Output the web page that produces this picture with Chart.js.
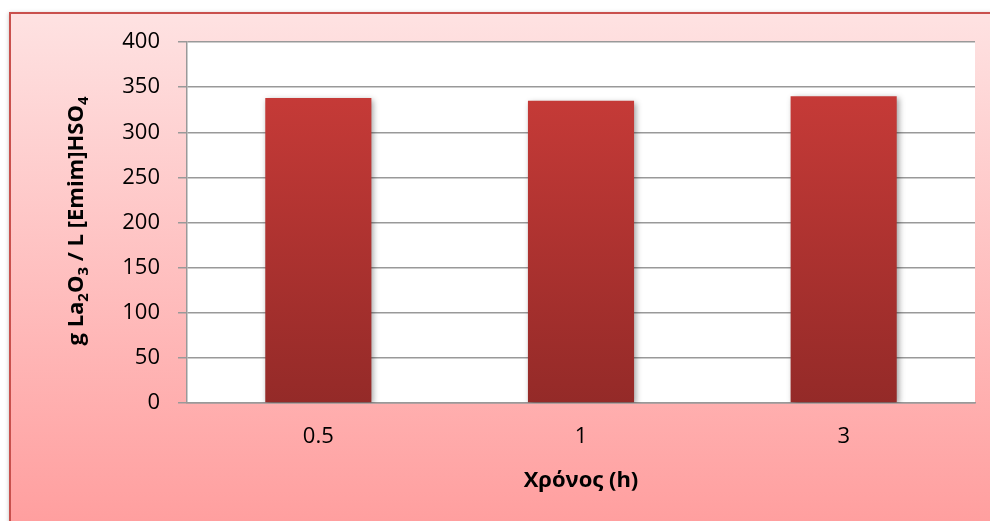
<!DOCTYPE html>
<html>
<head>
<meta charset="utf-8">
<script src="https://cdn.jsdelivr.net/npm/chart.js@4/dist/chart.umd.min.js"></script>
<style>
  html, body { margin: 0; padding: 0; background: #fff; overflow: hidden; }
  canvas { display: block; }
</style>
</head>
<body>
<canvas id="chart" width="990" height="521"></canvas>
<script>
// Data
const categories = ['0.5', '1', '3'];
const yields = [338, 335, 340];
const yMin = 0;
const yMax = 400;
const yStep = 50;
const xTitle = 'Χρόνος (h)';
// Y-axis title pieces: [text, isSubscript]
const yTitleParts = [['g La', 0], ['2', 1], ['O', 0], ['3', 1], [' / L [Emim]HSO', 0], ['4', 1]];

const FONT = '"Open Sans", "Noto Sans", sans-serif';

// Pink panel with a red frame behind the whole chart
const panelBackground = {
  id: 'panelBackground',
  beforeDraw(chart) {
    const ctx = chart.ctx;
    ctx.save();
    ctx.fillStyle = '#ffffff';
    ctx.fillRect(0, 0, chart.width, chart.height);
    const g = ctx.createLinearGradient(0, 13, 0, chart.height);
    g.addColorStop(0, '#fee2e2');
    g.addColorStop(1, '#ff9f9f');
    ctx.shadowColor = 'rgba(0,0,0,0.25)';
    ctx.shadowBlur = 4;
    ctx.shadowOffsetX = -1;
    ctx.fillStyle = g;
    ctx.fillRect(10, 13, chart.width + 10, chart.height + 10);
    ctx.shadowColor = 'transparent';
    ctx.strokeStyle = '#c9504d';
    ctx.lineWidth = 2;
    ctx.strokeRect(10, 13, chart.width + 10, chart.height + 10);
    // white plot area
    const a = chart.chartArea;
    ctx.fillStyle = '#ffffff';
    ctx.fillRect(a.left, a.top, a.right - a.left, a.bottom - a.top);
    ctx.restore();
  }
};

// Soft drop shadow under the bars
const barShadow = {
  id: 'barShadow',
  beforeDatasetsDraw(chart) {
    const ctx = chart.ctx;
    ctx.save();
    ctx.shadowColor = 'rgba(0,0,0,0.38)';
    ctx.shadowBlur = 6;
    ctx.shadowOffsetX = 2;
    ctx.shadowOffsetY = 2;
  },
  afterDatasetsDraw(chart) {
    chart.ctx.restore();
  }
};

// Axis titles (the y title needs subscripts)
const axisTitles = {
  id: 'axisTitles',
  afterDraw(chart) {
    const ctx = chart.ctx;
    const a = chart.chartArea;
    ctx.save();
    ctx.fillStyle = '#000';
    ctx.textBaseline = 'alphabetic';

    // x title
    ctx.font = 'bold 22px ' + FONT;
    ctx.textAlign = 'center';
    ctx.fillText(xTitle, (a.left + a.right) / 2, 487);

    // y title, rotated
    const mainFont = 'bold 22px ' + FONT;
    const subFont = 'bold 15px ' + FONT;
    let total = 0;
    for (const [t, sub] of yTitleParts) {
      ctx.font = sub ? subFont : mainFont;
      total += ctx.measureText(t).width;
    }
    ctx.translate(83, 221);
    ctx.rotate(-Math.PI / 2);
    ctx.textAlign = 'left';
    let x = -total / 2;
    for (const [t, sub] of yTitleParts) {
      ctx.font = sub ? subFont : mainFont;
      ctx.fillText(t, x, sub ? 5 : 0);
      x += ctx.measureText(t).width;
    }
    ctx.restore();
  }
};

const ctx = document.getElementById('chart').getContext('2d');
new Chart(ctx, {
  type: 'bar',
  data: {
    labels: categories,
    datasets: [{
      data: yields,
      backgroundColor(c) {
        const area = c.chart.chartArea;
        if (!area) return '#c0392f';
        const g = c.chart.ctx.createLinearGradient(0, area.top, 0, area.bottom);
        g.addColorStop(0, '#ce3d3a');
        g.addColorStop(1, '#942a28');
        return g;
      },
      borderWidth: 0,
      barPercentage: 0.404,
      categoryPercentage: 1.0
    }]
  },
  options: {
    responsive: false,
    animation: false,
    devicePixelRatio: 1,
    layout: { padding: { left: 0, top: 42, right: 15, bottom: 0 } },
    plugins: {
      legend: { display: false },
      tooltip: { enabled: false }
    },
    scales: {
      x: {
        afterFit(scale) { scale.height = 118; },
        grid: { display: false, drawTicks: false },
        border: { display: true, color: '#999999', width: 1.5 },
        ticks: {
          color: '#000',
          padding: 21,
          font: { family: FONT, size: 22 }
        }
      },
      y: {
        min: yMin,
        max: yMax,
        afterFit(scale) { scale.width = 187; },
        grid: {
          color: '#999999',
          lineWidth: 1.5,
          tickLength: 9,
          drawTicks: true
        },
        border: { display: true, color: '#999999', width: 1.5 },
        ticks: {
          stepSize: yStep,
          color: '#000',
          padding: 18,
          font: { family: FONT, size: 22 }
        }
      }
    }
  },
  plugins: [panelBackground, barShadow, axisTitles]
});
</script>
</body>
</html>
